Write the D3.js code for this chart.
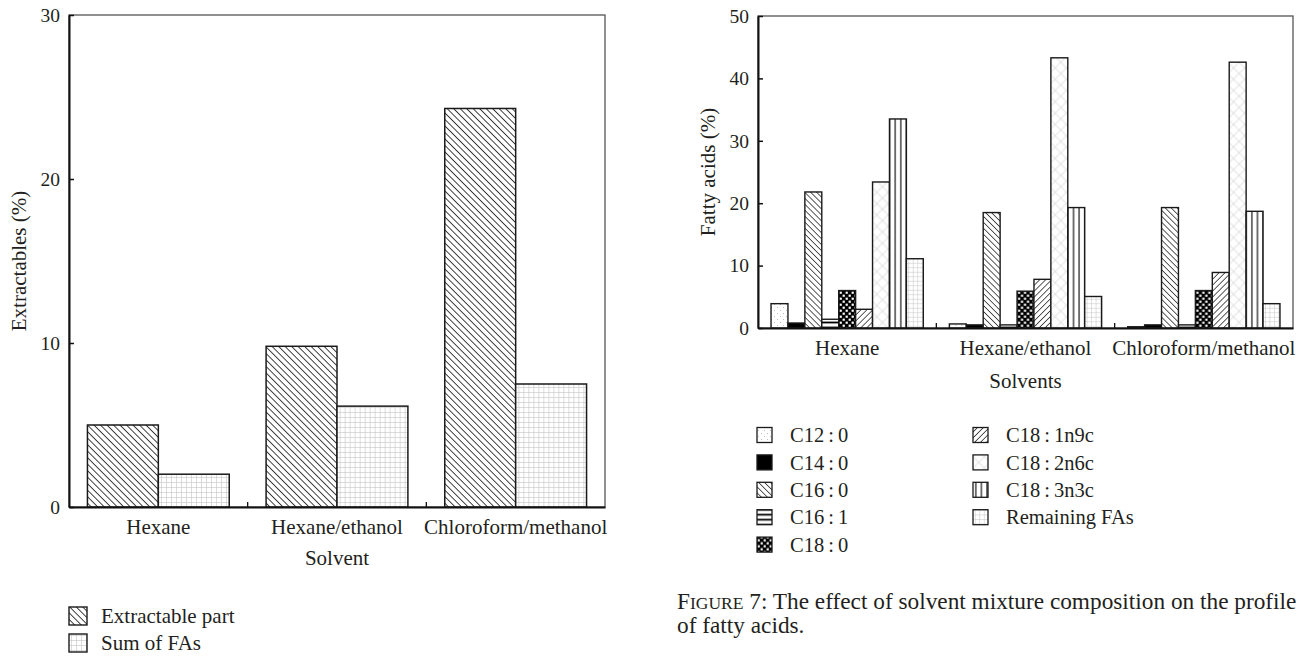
<!DOCTYPE html>
<html>
<head>
<meta charset="utf-8">
<script src="https://cdn.jsdelivr.net/npm/d3@7"></script>
<style>
  body { margin: 0; background: #fff; }
  svg text { font-family: 'Liberation Serif', 'Times New Roman', serif; fill: #231f20; }
</style>
</head>
<body>
<div id="chart-area"></div>
<script>
// left panel: extractables
const solvents = ['Hexane', 'Hexane/ethanol', 'Chloroform/methanol'];
const extractablePart = [5.0, 9.8, 24.3];
const sumOfFAs = [2.0, 6.15, 7.5];
const extractTicks = [0, 10, 20, 30];
const extractSeries = ['Extractable part', 'Sum of FAs'];

// right panel: fatty acid profile
const fattyAcids = ['C12\u2009:\u20090', 'C14\u2009:\u20090', 'C16\u2009:\u20090', 'C16\u2009:\u20091', 'C18\u2009:\u20090',
  'C18\u2009:\u20091n9c', 'C18\u2009:\u20092n6c', 'C18\u2009:\u20093n3c', 'Remaining FAs'];
const faHexane = [3.9, 0.8, 21.8, 1.4, 6.0, 3.0, 23.4, 33.5, 11.1];
const faHexaneEthanol = [0.65, 0.5, 18.5, 0.5, 5.9, 7.8, 43.3, 19.3, 5.05];
const faChloroformMethanol = [0.2, 0.5, 19.3, 0.5, 6.0, 8.9, 42.6, 18.7, 3.9];
const fattyTicks = [0, 10, 20, 30, 40, 50];

const faBySolvent = [faHexane, faHexaneEthanol, faChloroformMethanol];

const svg = d3.select('#chart-area').append('svg')
  .attr('width', 1303)
  .attr('height', 656);

const defs = svg.append('defs');

const pattern = (id, size, transform, bg = '#fff') => {
  const p = defs.append('pattern')
    .attr('id', id)
    .attr('patternUnits', 'userSpaceOnUse')
    .attr('width', size)
    .attr('height', size);
  if (transform) p.attr('patternTransform', transform);
  p.append('rect').attr('width', size).attr('height', size).attr('fill', bg);
  return p;
};

const hatch = (id, size, angle, color, w) => {
  pattern(id, size, `rotate(${angle})`)
    .append('line')
    .attr('x1', size / 2).attr('x2', size / 2)
    .attr('y1', 0).attr('y2', size)
    .attr('stroke', color).attr('stroke-width', w);
};

const grid = (id, size, color, w, angle) => {
  const p = pattern(id, size, angle ? `rotate(${angle})` : null);
  p.append('path')
    .attr('d', `M${size / 2},0V${size}M0,${size / 2}H${size}`)
    .attr('stroke', color).attr('stroke-width', w).attr('fill', 'none');
};

hatch('p-back-l', 4.6, -45, '#222', 0.85);
grid('p-grid-l', 5, '#c4c4c4', 0.6);

// fatty acid fills
const dots = pattern('p-dots', 6);
dots.append('circle').attr('cx', 1.5).attr('cy', 1.5).attr('r', 0.45).attr('fill', '#777');
dots.append('circle').attr('cx', 4.5).attr('cy', 4.5).attr('r', 0.45).attr('fill', '#777');
hatch('p-back', 4.2, -45, '#333', 0.8);
const hl = pattern('p-hlines', 5);
hl.append('line').attr('x1', 0).attr('x2', 5).attr('y1', 2.5).attr('y2', 2.5)
  .attr('stroke', '#000').attr('stroke-width', 1.8);
const chk = pattern('p-checker', 6, null, '#000');
chk.append('rect').attr('x', 0.6).attr('y', 0.6).attr('width', 2.2).attr('height', 2.2).attr('fill', '#fff');
chk.append('rect').attr('x', 3.6).attr('y', 3.6).attr('width', 2.2).attr('height', 2.2).attr('fill', '#fff');
hatch('p-fwd', 4.2, 45, '#333', 0.8);
grid('p-cross', 8, '#cfcfcf', 0.6, 45);
hatch('p-vlines', 5.6, 0, '#000', 1.1);
grid('p-grid', 4.5, '#c4c4c4', 0.5);

const extractFills = ['url(#p-back-l)', 'url(#p-grid-l)'];
const faFills = ['url(#p-dots)', '#000', 'url(#p-back)', 'url(#p-hlines)', 'url(#p-checker)',
  'url(#p-fwd)', 'url(#p-cross)', 'url(#p-vlines)', 'url(#p-grid)'];

const drawFrame = (g, x, y) => {
  const [x0, x1] = x.range();
  const [y0, y1] = y.range();
  g.append('rect')
    .attr('x', x0).attr('y', y1)
    .attr('width', x1 - x0).attr('height', y0 - y1)
    .attr('fill', 'none').attr('stroke', '#555').attr('stroke-width', 1.3);
};

const drawAxes = (g, x, y, ticks) => {
  const [x0] = x.range();
  const [y0] = y.range();
  const ya = g.append('g')
    .attr('transform', `translate(${x0},0)`)
    .call(d3.axisLeft(y).tickValues(ticks).tickSizeInner(-5).tickSizeOuter(0).tickPadding(9));
  ya.select('.domain').attr('stroke', '#111').attr('stroke-width', 2);
  ya.selectAll('line').attr('stroke', '#111').attr('stroke-width', 1.5);
  ya.selectAll('text').attr('font-size', 19.5);

  const xa = g.append('g')
    .attr('transform', `translate(0,${y0})`)
    .call(d3.axisBottom(x).tickSize(0).tickPadding(12));
  xa.select('.domain').attr('stroke', '#111').attr('stroke-width', 2);
  xa.selectAll('text').attr('font-size', 21);

  // separators between solvent groups
  g.selectAll(null)
    .data(x.domain().slice(1))
    .enter().append('line')
    .attr('x1', d => x(d)).attr('x2', d => x(d))
    .attr('y1', y0).attr('y2', y0 - 5)
    .attr('stroke', '#111').attr('stroke-width', 1.3);
};

// ---------- left chart ----------
const left = svg.append('g');
const xL = d3.scaleBand().domain(solvents).range([69, 605]);
const xL1 = d3.scaleBand().domain(extractSeries).range([0, xL.bandwidth()]).paddingOuter(0.26);
const yL = d3.scaleLinear().domain([0, 30]).range([507, 15]);

drawFrame(left, xL, yL);

const leftRows = solvents.map((s, i) => ({ solvent: s, values: [extractablePart[i], sumOfFAs[i]] }));
left.selectAll('.grp')
  .data(leftRows)
  .enter().append('g')
  .attr('transform', d => `translate(${xL(d.solvent)},0)`)
  .selectAll('rect')
  .data(d => d.values.map((v, j) => ({ key: extractSeries[j], v, j })))
  .enter().append('rect')
  .attr('x', d => xL1(d.key))
  .attr('width', xL1.bandwidth())
  .attr('y', d => yL(d.v))
  .attr('height', d => yL(0) - yL(d.v))
  .attr('fill', d => extractFills[d.j])
  .attr('stroke', '#1a1a1a')
  .attr('stroke-width', 1.5);

drawAxes(left, xL, yL, extractTicks);

left.append('text')
  .attr('transform', `translate(19,${(yL(0) + yL(30)) / 2}) rotate(-90)`)
  .attr('text-anchor', 'middle').attr('dy', '0.35em')
  .attr('font-size', 21)
  .text('Extractables (%)');

left.append('text')
  .attr('x', (xL.range()[0] + xL.range()[1]) / 2).attr('y', 558)
  .attr('text-anchor', 'middle').attr('dy', '0.35em')
  .attr('font-size', 21)
  .text('Solvent');

const legL = left.selectAll('.leg')
  .data(extractSeries)
  .enter().append('g')
  .attr('transform', (d, i) => `translate(69,${616 + i * 27})`);
legL.append('rect')
  .attr('x', 0).attr('y', -9).attr('width', 18).attr('height', 18)
  .attr('fill', (d, i) => extractFills[i]).attr('stroke', '#1a1a1a').attr('stroke-width', 1.4);
legL.append('text')
  .attr('x', 32).attr('dy', '0.35em').attr('font-size', 21)
  .text(d => d);

// ---------- right chart ----------
const right = svg.append('g');
const xR = d3.scaleBand().domain(solvents).range([758, 1293]);
const xR1 = d3.scaleBand().domain(fattyAcids).range([0, xR.bandwidth()]).paddingOuter(0.77);
const yR = d3.scaleLinear().domain([0, 50]).range([328, 16]);

drawFrame(right, xR, yR);

const rightRows = solvents.map((s, i) => ({ solvent: s, values: faBySolvent[i] }));
right.selectAll('.grp')
  .data(rightRows)
  .enter().append('g')
  .attr('transform', d => `translate(${xR(d.solvent)},0)`)
  .selectAll('rect')
  .data(d => d.values.map((v, j) => ({ key: fattyAcids[j], v, j })))
  .enter().append('rect')
  .attr('x', d => xR1(d.key))
  .attr('width', xR1.bandwidth())
  .attr('y', d => yR(d.v))
  .attr('height', d => yR(0) - yR(d.v))
  .attr('fill', d => faFills[d.j])
  .attr('stroke', '#1a1a1a')
  .attr('stroke-width', 1.4);

drawAxes(right, xR, yR, fattyTicks);

right.append('text')
  .attr('transform', `translate(708,${(yR(0) + yR(50)) / 2}) rotate(-90)`)
  .attr('text-anchor', 'middle').attr('dy', '0.35em')
  .attr('font-size', 21)
  .text('Fatty acids (%)');

right.append('text')
  .attr('x', (xR.range()[0] + xR.range()[1]) / 2).attr('y', 381)
  .attr('text-anchor', 'middle').attr('dy', '0.35em')
  .attr('font-size', 21)
  .text('Solvents');

const legR = right.selectAll('.leg')
  .data(fattyAcids)
  .enter().append('g')
  .attr('transform', (d, i) => `translate(${i < 5 ? 757 : 973},${435 + (i % 5) * 27.4})`);
legR.append('rect')
  .attr('x', 0).attr('y', -7.5).attr('width', 15).attr('height', 15)
  .attr('fill', (d, i) => faFills[i]).attr('stroke', '#1a1a1a').attr('stroke-width', 1.3);
legR.append('text')
  .attr('x', 33).attr('dy', '0.35em').attr('font-size', 20.5)
  .text(d => d);

// caption
const cap = svg.append('text')
  .attr('x', 677).attr('y', 601).attr('dy', '0.35em')
  .attr('font-size', 23.3);
cap.append('tspan').text('F');
cap.append('tspan').attr('font-size', 17.5).text('IGURE');
cap.append('tspan').text(' 7: The effect of solvent mixture composition on the profile');
svg.append('text')
  .attr('x', 677).attr('y', 625).attr('dy', '0.35em')
  .attr('font-size', 23.3)
  .text('of fatty acids.');
</script>
</body>
</html>
